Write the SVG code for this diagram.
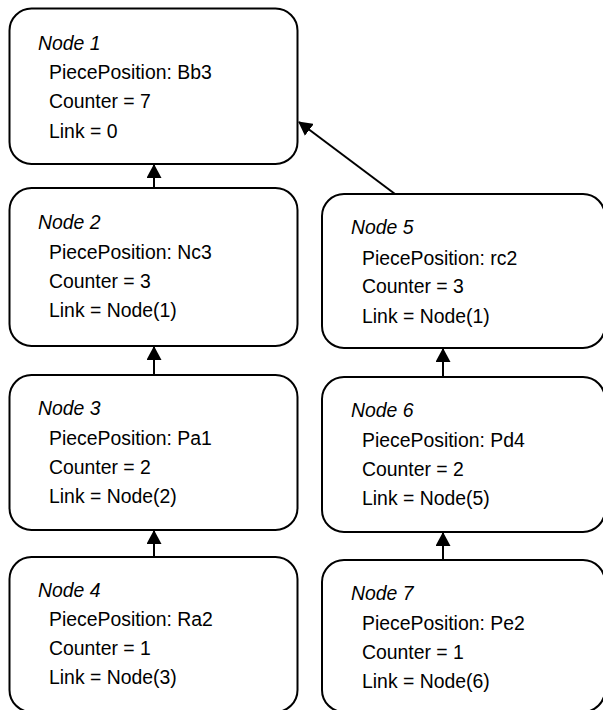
<svg xmlns="http://www.w3.org/2000/svg" width="603" height="710" viewBox="0 0 603 710">
<style>
.box{fill:#fff;stroke:#000;stroke-width:2}
.t{font-family:"Liberation Sans",Arial,sans-serif;font-size:19.4px;fill:#000}
.h{font-style:italic}
.c{stroke:#000;stroke-width:2;fill:none;marker-end:url(#ah)}
</style>
<defs>
<marker id="ah" markerUnits="userSpaceOnUse" markerWidth="14" markerHeight="15" refX="13" refY="7.5" orient="auto">
<path d="M0,0 L14,7.5 L0,15 z" fill="#000"/>
</marker>
</defs>
<rect width="603" height="710" fill="#fff"/>
<g id="node1">
<rect class="box" x="9.5" y="8.5" width="288" height="155.5" rx="22"/>
<text class="t h" x="38" y="50">Node 1</text>
<text class="t" x="49" y="79">PiecePosition: Bb3</text>
<text class="t" x="49" y="108">Counter = 7</text>
<text class="t" x="49" y="138">Link = 0</text>
</g>
<g id="node2">
<rect class="box" x="9.5" y="188" width="288" height="158" rx="22"/>
<text class="t h" x="38" y="229">Node 2</text>
<text class="t" x="49" y="259">PiecePosition: Nc3</text>
<text class="t" x="49" y="288">Counter = 3</text>
<text class="t" x="49" y="317">Link = Node(1)</text>
</g>
<g id="node3">
<rect class="box" x="9.5" y="375" width="288" height="155" rx="22"/>
<text class="t h" x="38" y="415">Node 3</text>
<text class="t" x="49" y="445">PiecePosition: Pa1</text>
<text class="t" x="49" y="474">Counter = 2</text>
<text class="t" x="49" y="503">Link = Node(2)</text>
</g>
<g id="node4">
<rect class="box" x="9.5" y="557" width="288" height="155" rx="22"/>
<text class="t h" x="38" y="597">Node 4</text>
<text class="t" x="49" y="626">PiecePosition: Ra2</text>
<text class="t" x="49" y="655">Counter = 1</text>
<text class="t" x="49" y="684">Link = Node(3)</text>
</g>
<g id="node5">
<rect class="box" x="322" y="194" width="283" height="154" rx="22"/>
<text class="t h" x="351" y="234">Node 5</text>
<text class="t" x="362" y="265">PiecePosition: rc2</text>
<text class="t" x="362" y="293">Counter = 3</text>
<text class="t" x="362" y="323">Link = Node(1)</text>
</g>
<g id="node6">
<rect class="box" x="322" y="377" width="283" height="155" rx="22"/>
<text class="t h" x="351" y="417">Node 6</text>
<text class="t" x="362" y="447">PiecePosition: Pd4</text>
<text class="t" x="362" y="476">Counter = 2</text>
<text class="t" x="362" y="505">Link = Node(5)</text>
</g>
<g id="node7">
<rect class="box" x="322" y="560" width="283" height="152" rx="22"/>
<text class="t h" x="351" y="600">Node 7</text>
<text class="t" x="362" y="630">PiecePosition: Pe2</text>
<text class="t" x="362" y="659">Counter = 1</text>
<text class="t" x="362" y="688">Link = Node(6)</text>
</g>
<g id="connectors">
<line class="c" x1="154" y1="188" x2="154" y2="165"/>
<line class="c" x1="154" y1="375" x2="154" y2="347"/>
<line class="c" x1="154" y1="557" x2="154" y2="531"/>
<line class="c" x1="443" y1="377" x2="443" y2="349"/>
<line class="c" x1="443" y1="560" x2="443" y2="533"/>
<line class="c" x1="395" y1="194" x2="299" y2="122"/>
</g>
</svg>
